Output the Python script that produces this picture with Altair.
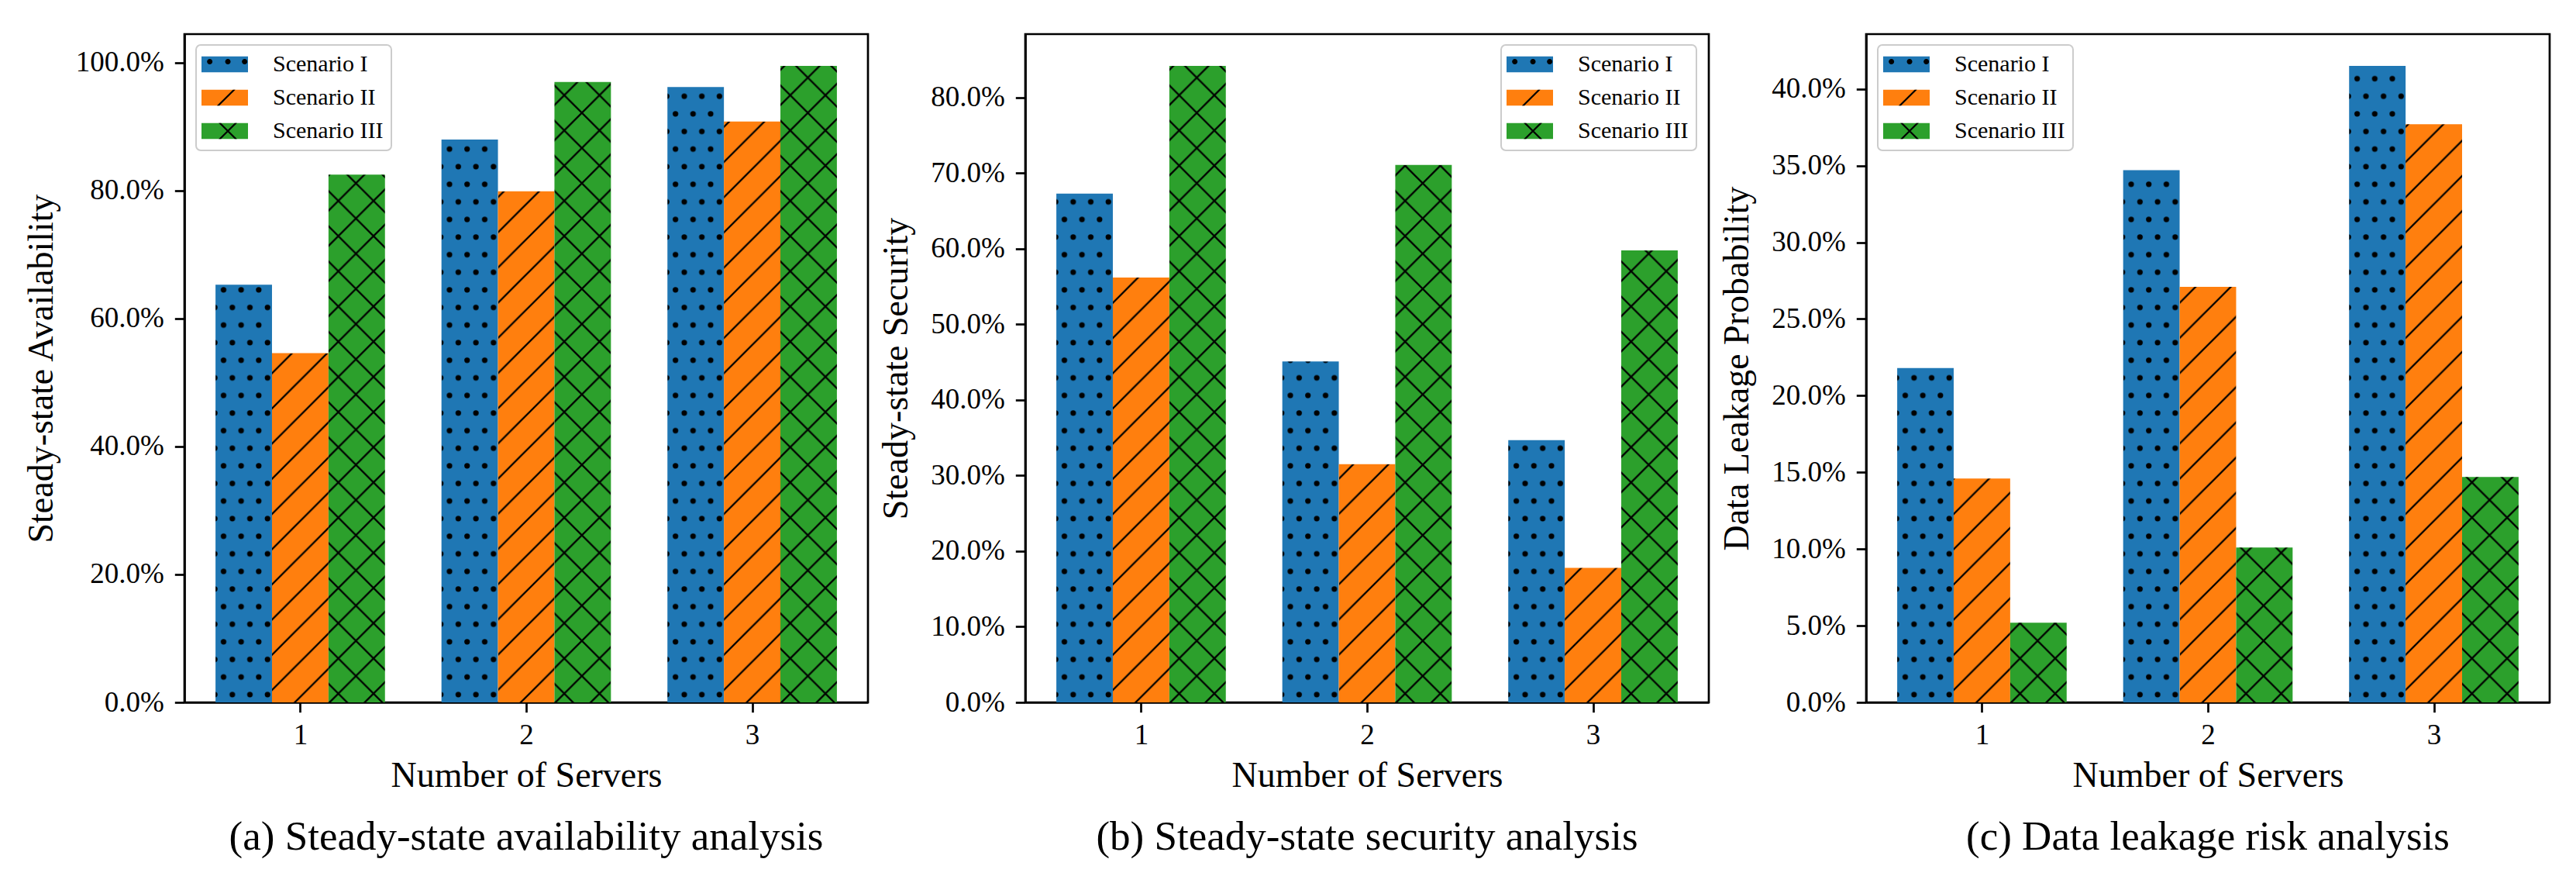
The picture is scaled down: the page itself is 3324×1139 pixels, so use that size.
import base64
import altair as alt
import pandas as pd

# ---------------- data ----------------
servers = [1, 2, 3]
scenarios = ["Scenario I", "Scenario II", "Scenario III"]
hatches = ["dots", "slash", "cross"]
colors = ["#1f77b4", "#ff7f0e", "#2ca02c"]

avail_s1 = [65.3, 88.0, 96.2]
avail_s2 = [54.6, 79.9, 90.8]
avail_s3 = [82.5, 97.0, 99.5]

sec_s1 = [67.3, 45.1, 34.7]
sec_s2 = [56.2, 31.5, 17.8]
sec_s3 = [84.2, 71.1, 59.8]

leak_s1 = [21.8, 34.7, 41.5]
leak_s2 = [14.6, 27.1, 37.7]
leak_s3 = [5.2, 10.1, 14.7]

avail_ticks = [0, 20, 40, 60, 80, 100]
sec_ticks = [0, 10, 20, 30, 40, 50, 60, 70, 80]
leak_ticks = [0, 5, 10, 15, 20, 25, 30, 35, 40]
x_ticks = [1, 2, 3]

titles_y = ["Steady-state Availability", "Steady-state Security", "Data Leakage Probability"]
captions = ["(a) Steady-state availability analysis",
            "(b) Steady-state security analysis",
            "(c) Data leakage risk analysis"]
x_title = "Number of Servers"

# ---------------- styling ----------------
FONT = "Liberation Serif"
TICK_FS = 37
AXIS_TITLE_FS = 46
CAPTION_FS = 53
LEGEND_FS = 30
PANEL_W = 882
PANEL_H = 862
BAR_W = 0.25
FRAME_W = 2.7

lo = min(servers) - 1.5 * BAR_W
hi = max(servers) + 1.5 * BAR_W
XMIN = lo - 0.05 * (hi - lo)
XMAX = hi + 0.05 * (hi - lo)


def svg_uri(body, tw, th, px=0.0):
    svg = ('<svg xmlns="http://www.w3.org/2000/svg" width="100%" height="100%">'
           f'<defs><pattern id="h" patternUnits="userSpaceOnUse" x="{px}" y="100%" '
           f'width="{tw}" height="{th}">' + body +
           '</pattern></defs><rect x="0" y="0" width="100%" height="100%" fill="url(#h)"/></svg>')
    return "data:image/svg+xml;base64," + base64.b64encode(svg.encode()).decode()


D = 45.4
W = D / 2
dots_body = (f'<circle cx="{W/4:.3f}" cy="12.7" r="3.6" fill="#000"/>'
             f'<circle cx="{3*W/4:.3f}" cy="35.4" r="3.6" fill="#000"/>')


def ne_line(c):  # u + v = c
    return f'M{-6},{c+6} L{c+6},{-6} '


def se_line(k):  # u - v = k
    return f'M{k-6},{-6} L{k+60},{60} '


slash_body = ('<path d="' + ne_line(29.4) + ne_line(74.8) +
              '" stroke="#000" stroke-width="2.3" fill="none"/>')
cross_body = ('<path d="' + ne_line(1.4) + ne_line(46.8) + ne_line(92.2) +
              se_line(24.0) + se_line(-21.4) +
              '" stroke="#000" stroke-width="2.3" fill="none"/>')

hatch_uris = [svg_uri(dots_body, W, D, 4.7),
              svg_uri(slash_body, D, D),
              svg_uri(cross_body, D, D)]

# legend symbol paths (unit = 15 px for symbolSize 900)
RECT_PATH = "M-2,-0.69H2V0.69H-2Z"


def circ(x, y, r=0.235):
    return f"M{x-r:.3f},{y} A {r} {r} 0 1 0 {x+r:.3f} {y} A {r} {r} 0 1 0 {x-r:.3f} {y} Z "


t = 0.103
cx = 0.27
DOTS_PATH = circ(-1.29, -0.24) + circ(0.27, -0.24) + circ(1.71, -0.24)
SLASH_PATH = (f"M{-0.57-t:.3f},0.69 L{-0.57+t:.3f},0.69 L{0.81+t:.3f},-0.69 "
              f"L{0.81-t:.3f},-0.69 Z")
CROSS_PATH = (f"M{cx-0.69-t:.3f},-0.69 L{cx-0.69+t:.3f},-0.69 L{cx+0.69+t:.3f},0.69 "
              f"L{cx+0.69-t:.3f},0.69 Z "
              f"M{cx+0.69-t:.3f},-0.69 L{cx+0.69+t:.3f},-0.69 L{cx-0.69+t:.3f},0.69 "
              f"L{cx-0.69-t:.3f},0.69 Z")
hatch_paths = [DOTS_PATH, SLASH_PATH, CROSS_PATH]

legend_common = dict(
    title=None, orient="none", symbolSize=900, symbolStrokeWidth=0,
    symbolOffset=12, labelOffset=47, labelFont=FONT, labelFontSize=LEGEND_FS,
    labelLimit=0, rowPadding=13, padding=10,
)


def make_panel(s1, s2, s3, ticks, ytitle, caption, legend_x, legend_y=14):
    vals = [s1, s2, s3]
    ymax = max(s1 + s2 + s3) * 1.05
    df = pd.DataFrame([
        {"Server": servers[j], "Scenario": scenarios[i], "Hatch": hatches[i],
         "Slot": i, "Value": vals[i][j]}
        for i in range(3) for j in range(3)
    ])
    base = alt.Chart(df).transform_calculate(
        xa=f"datum.Server + (datum.Slot - 1) * {BAR_W} - {BAR_W / 2}",
        xb=f"datum.Server + (datum.Slot - 1) * {BAR_W} + {BAR_W / 2}",
        xc=f"datum.Server + (datum.Slot - 1) * {BAR_W}",
    )
    xscale = alt.Scale(domain=[XMIN, XMAX], nice=False, zero=False)
    yscale = alt.Scale(domain=[0, ymax], nice=False, zero=True)
    xaxis = alt.Axis(values=x_ticks, format="d", labelFlush=False,
                     labelPadding=12, titlePadding=12, tickSize=12.7)
    yaxis = alt.Axis(values=ticks, labelExpr="format(datum.value, '.1f') + '%'",
                     labelFlush=False, labelPadding=14, titlePadding=20, tickSize=12.7)

    def X(field):
        return alt.X(field, scale=xscale, axis=xaxis, title=x_title)

    def Y():
        return alt.Y("Value:Q", scale=yscale, axis=yaxis, title=ytitle)

    bars = base.mark_rect().encode(
        x=X("xa:Q"), x2="xb:Q", y=Y(), y2=alt.datum(0),
        fill=alt.Fill("Scenario:N",
                      scale=alt.Scale(domain=scenarios, range=colors),
                      legend=alt.Legend(symbolType=RECT_PATH, legendX=legend_x,
                                        legendY=legend_y, labelColor="black",
                                        strokeColor="#cccccc",
                                        cornerRadius=6,
                                        fillColor="rgba(255,255,255,0.8)",
                                        **legend_common)),
    )
    hatch_layers = [
        base.transform_filter(alt.datum.Slot == i).mark_image(aspect=False).encode(
            x=X("xa:Q"), x2="xb:Q", y=Y(), y2=alt.datum(0),
            url=alt.value(hatch_uris[i]),
        )
        for i in range(3)
    ]
    keys = base.mark_point(filled=True, opacity=0, color="black").encode(
        x=X("xc:Q"), y=Y(),
        shape=alt.Shape("Hatch:N",
                        scale=alt.Scale(domain=hatches, range=hatch_paths),
                        legend=alt.Legend(legendX=legend_x, legendY=legend_y,
                                          symbolFillColor="black", symbolOpacity=1,
                                          labelExpr="''", **legend_common)),
    )
    return alt.layer(bars, *hatch_layers, keys).properties(
        width=PANEL_W, height=PANEL_H,
        title=alt.TitleParams(text=caption, orient="bottom", anchor="middle",
                              frame="group", baseline="top", offset=30),
    )


pa = make_panel(avail_s1, avail_s2, avail_s3, avail_ticks, titles_y[0], captions[0], 15)
pb = make_panel(sec_s1, sec_s2, sec_s3, sec_ticks, titles_y[1], captions[1], 614)
pc = make_panel(leak_s1, leak_s2, leak_s3, leak_ticks, titles_y[2], captions[2], 15)

chart = (
    alt.hconcat(pa, pb, pc, spacing=203, bounds="flush")
    .resolve_scale(fill="independent", shape="independent")
    .resolve_legend(fill="independent", shape="independent")
    .properties(padding={"left": 20, "top": 34, "right": 5, "bottom": 5},
                background="white")
    .configure_view(stroke="black", strokeWidth=FRAME_W)
    .configure_axis(labelFont=FONT, labelFontSize=TICK_FS, labelColor="black",
                    titleFont=FONT, titleFontSize=AXIS_TITLE_FS, titleFontWeight="normal",
                    titleColor="black", tickColor="black", tickWidth=FRAME_W,
                    domainColor="black", domainWidth=FRAME_W, grid=False,
                    labelOverlap=False)
    .configure_legend(strokeWidth=2)
    .configure_title(font=FONT, fontSize=CAPTION_FS, fontWeight="normal", color="black")
)

chart.save("out.html", embed_options={"renderer": "svg", "actions": False})
